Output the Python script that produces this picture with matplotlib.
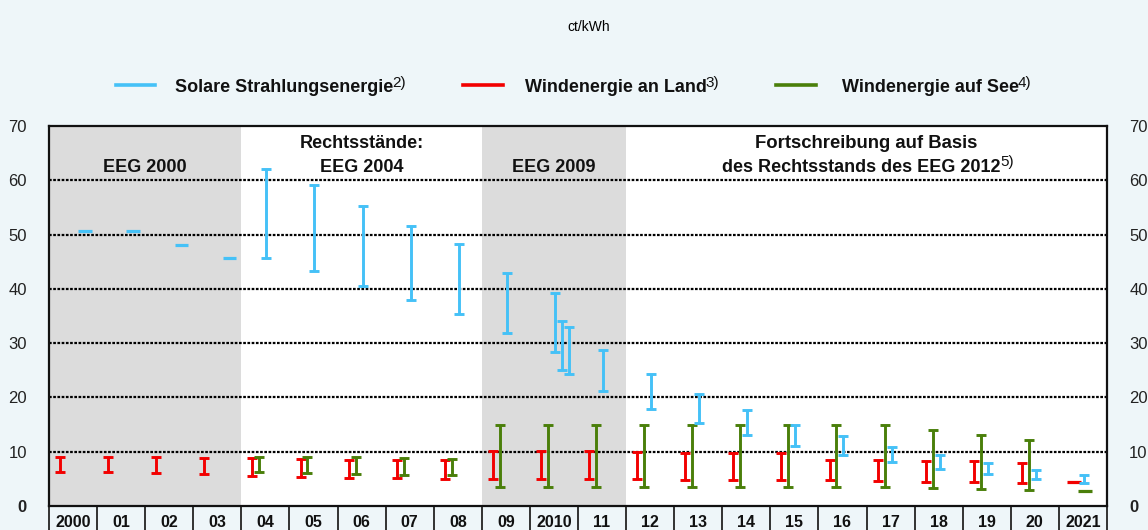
#!/usr/bin/env python3
"""
EEG-Vergütungssätze 2000-2021 (ct/kWh) als Spannweiten je Jahr
"""

import matplotlib
matplotlib.use('Agg')
import matplotlib.pyplot as plt
from matplotlib.lines import Line2D
import numpy as np

nan = np.nan

years = ['2000', '01', '02', '03', '04', '05', '06', '07', '08', '09', '2010',
         '11', '12', '13', '14', '15', '16', '17', '18', '19', '20', '2021']

# Solare Strahlungsenergie (min / max je Jahr)
solar_hi = [50.6, 50.6, 48.1, 45.7, 62.1, 59.1, 55.2, 51.6, 48.3, 42.9, 39.2,
            28.7, 24.4, 20.7, 17.7, 15.0, 12.9, 10.9, 9.4, 7.9, 6.7, 5.8]
solar_lo = [50.6, 50.6, 48.1, 45.7, 45.6, 43.3, 40.5, 37.9, 35.4, 31.9, 28.4,
            21.2, 17.9, 15.3, 13.0, 11.0, 9.4, 8.1, 6.8, 5.9, 5.0, 4.2]
# zusaetzliche Absenkungen im Jahr 2010
solar_2010_hi = [34.0, 33.0]
solar_2010_lo = [25.0, 24.3]

# Windenergie an Land
land_hi = [9.1, 9.1, 9.0, 8.9, 8.8, 8.7, 8.5, 8.4, 8.4, 10.2, 10.2,
           10.1, 10.0, 9.8, 9.8, 9.7, 8.5, 8.4, 8.3, 8.2, 8.0, 4.4]
land_lo = [6.2, 6.2, 6.0, 5.9, 5.5, 5.4, 5.2, 5.1, 5.0, 5.0, 5.0,
           4.9, 4.9, 4.7, 4.7, 4.7, 4.7, 4.6, 4.5, 4.4, 4.2, 4.4]

# Windenergie auf See
see_hi = [nan, nan, nan, nan, 9.1, 9.0, 9.0, 8.8, 8.7, 15.0, 15.0,
          15.0, 15.0, 15.0, 15.0, 15.0, 15.0, 15.0, 14.0, 13.0, 12.1, 2.8]
see_lo = [nan, nan, nan, nan, 6.2, 6.0, 5.9, 5.8, 5.7, 3.5, 3.5,
          3.5, 3.5, 3.5, 3.5, 3.5, 3.5, 3.5, 3.3, 3.1, 2.9, 2.8]

legend_labels = ['Solare Strahlungsenergie', 'Windenergie an Land', 'Windenergie auf See']
legend_notes = ['2)', '3)', '4)']

BLUE = '#45C1F7'
RED = '#F20000'
GREEN = '#4A7F0A'
BG = '#EEF6F9'
SHADE = '#DCDCDC'

W, H = 1148, 530

plt.rcParams['font.family'] = ['Liberation Sans', 'DejaVu Sans']


def draw_ranges(ax, x, lo, hi, color, dash_shift):
    """Spannweiten als I-Balken, gleiche Werte als kurzer Strich"""
    x = np.asarray(x, dtype=float)
    lo = np.asarray(lo, dtype=float)
    hi = np.asarray(hi, dtype=float)
    ok = ~np.isnan(lo)
    bar = ok & (hi > lo)
    dash = ok & (hi == lo)
    mid = (lo + hi) / 2
    ax.errorbar(x[bar], mid[bar], yerr=(hi - lo)[bar] / 2, fmt='none',
                ecolor=color, elinewidth=2.1, capsize=3.4, capthick=2.1, zorder=4)
    ax.hlines(lo[dash], x[dash] + dash_shift - 0.14, x[dash] + dash_shift + 0.14,
              color=color, lw=2.3, zorder=4)


def add_note(fig, txt, note, renderer, size=11):
    """Fussnotenzeichen hochgestellt rechts neben einen Text setzen"""
    bb = txt.get_window_extent(renderer)
    fig.text(bb.x1 - 1, bb.y1 + 4, note, transform=None, ha='left', va='top',
             fontsize=size, color='#111111')


def main():
    fig = plt.figure(figsize=(W / 100, H / 100), dpi=100, facecolor=BG)
    ax = fig.add_axes([49 / W, 24 / H, 1058 / W, 380 / H])
    ax.set_facecolor('white')

    x = np.arange(len(years))
    ax.set_xlim(-0.5, len(years) - 0.5)
    ax.set_ylim(0, 70)

    # Zeitraeume der Rechtsstaende
    ax.axvspan(-0.5, 3.5, color=SHADE, zorder=0, lw=0)
    ax.axvspan(8.5, 11.5, color=SHADE, zorder=0, lw=0)

    for yv in range(10, 70, 10):
        ax.axhline(yv, color='black', lw=1.6, ls=(0, (1.2, 0.7)), zorder=1)

    draw_ranges(ax, x - 0.27, land_lo, land_hi, RED, 0.08)
    draw_ranges(ax, x - 0.125, see_lo, see_hi, GREEN, 0.17)
    draw_ranges(ax, x + 0.02, solar_lo, solar_hi, BLUE, 0.23)
    i2010 = years.index('2010')
    draw_ranges(ax, [i2010 + 0.17, i2010 + 0.32], solar_2010_lo, solar_2010_hi, BLUE, 0)

    # Achsen
    ax.set_yticks(range(0, 80, 10))
    ax.set_xticks([])
    ax.tick_params(axis='y', length=0, labelsize=12, labelcolor='#222222',
                   labelleft=True, labelright=True, pad=16)
    for t in ax.yaxis.get_major_ticks():
        t.label2.set_horizontalalignment('left')
    ax.yaxis.get_major_ticks()[0].label1.set_fontweight('bold')
    ax.yaxis.get_major_ticks()[0].label2.set_fontweight('bold')
    for s in ax.spines.values():
        s.set_linewidth(1.6)
        s.set_color('#111111')

    # Jahreszeile unter dem Diagramm
    trans = ax.get_xaxis_transform()
    for i, lab in enumerate(years):
        ax.text(i, -0.043, lab, transform=trans, ha='center', va='center',
                fontsize=11.5, fontweight='bold', color='#111111')
    for b in np.arange(-0.5, len(years), 1.0):
        ax.plot([b, b], [0, -0.07], transform=trans, color='#111111', lw=1.2,
                clip_on=False)

    # Beschriftung der Rechtsstaende
    kw = dict(ha='center', va='baseline', fontsize=13, fontweight='bold',
              color='#111111', zorder=5)
    ax.text(1.5, 61.5, 'EEG 2000', **kw)
    ax.text(6.0, 65.9, 'Rechtsstände:', **kw)
    ax.text(6.0, 61.5, 'EEG 2004', **kw)
    ax.text(10.0, 61.5, 'EEG 2009', **kw)
    ax.text(16.5, 65.9, 'Fortschreibung auf Basis', fontsize=13.3,
            **{k: v for k, v in kw.items() if k != 'fontsize'})
    t2012 = ax.text(16.4, 61.5, 'des Rechtsstands des EEG 2012', **kw)

    fig.text(0.513, 1 - 27 / H, 'ct/kWh', ha='center', va='center', fontsize=10)

    # Legende
    colors = [BLUE, RED, GREEN]
    line_x = [(116, 155), (463, 503), (776, 816)]
    text_x = [175, 525, 842]
    leg_texts = []
    for c, (x0, x1), tx, lab in zip(colors, line_x, text_x, legend_labels):
        fig.add_artist(Line2D([x0 / W, x1 / W], [1 - 85 / H, 1 - 85 / H],
                              transform=fig.transFigure, color=c, lw=2.6))
        leg_texts.append(fig.text(tx / W, 1 - 92.5 / H, lab, ha='left', va='baseline',
                                  fontsize=13, fontweight='bold', color='#111111'))

    renderer = fig.canvas.get_renderer()
    for t, n in zip(leg_texts, legend_notes):
        add_note(fig, t, n, renderer)
    add_note(fig, t2012, '5)', renderer)

    fig.savefig('out.png', dpi=100, facecolor=BG)


if __name__ == "__main__":
    main()
